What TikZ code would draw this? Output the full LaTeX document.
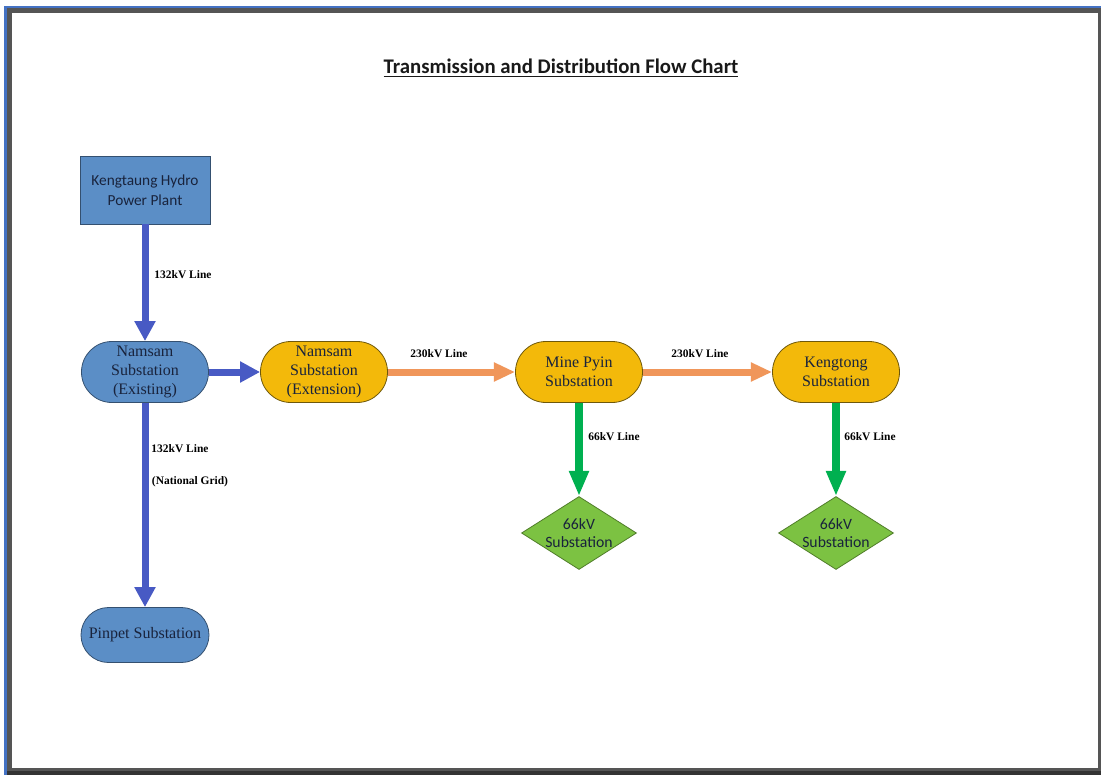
\documentclass[tikz,border=0pt]{standalone}
\usepackage{fontspec}
\setmainfont{Liberation Serif}
\newfontfamily\calib{Carlito}
\usetikzlibrary{arrows.meta,shapes.geometric}
\definecolor{frameblue}{RGB}{68,114,196}
\definecolor{framegray}{RGB}{85,85,85}
\definecolor{nodeblue}{RGB}{91,142,198}
\definecolor{nodeblueline}{RGB}{52,80,112}
\definecolor{nodegold}{RGB}{243,185,10}
\definecolor{nodegoldline}{RGB}{110,88,10}
\definecolor{nodegreen}{RGB}{124,194,66}
\definecolor{nodegreenline}{RGB}{80,125,42}
\definecolor{arrblue}{RGB}{72,90,196}
\definecolor{arrorange}{RGB}{240,150,90}
\definecolor{arrgreen}{RGB}{0,176,80}
\definecolor{txtnavy}{RGB}{25,35,60}
\tikzset{
  plantbox/.style={draw=nodeblueline, line width=0.6pt, fill=nodeblue, minimum width=97.5pt, minimum height=51pt,
    align=center, text=txtnavy, font=\calib\fontsize{11.5}{15}\selectfont, inner sep=1pt},
  stadium/.style={line width=0.6pt, minimum width=95.25pt, minimum height=45.75pt, rounded corners=22.8pt,
    align=center, text=txtnavy, font=\fontsize{12}{14.2}\selectfont, inner sep=1pt},
  bluesub/.style={stadium, draw=nodeblueline, fill=nodeblue},
  goldsub/.style={stadium, draw=nodegoldline, fill=nodegold},
  pinpetbox/.style={draw=nodeblueline, fill=nodeblue, line width=0.6pt, minimum width=96pt, minimum height=41.25pt,
    rounded corners=20.6pt, align=center, text=txtnavy, font=\fontsize{12}{14}\selectfont, inner sep=1pt},
  diam/.style={diamond, draw=nodegreenline, fill=nodegreen, line width=0.6pt, minimum width=86.25pt,
    minimum height=54.75pt, inner sep=0pt},
  diamtext/.style={align=center, text=txtnavy, font=\calib\fontsize{11.8}{14}\selectfont, inner sep=0pt},
  lbl/.style={font=\bfseries\fontsize{8.6}{10}\selectfont, text=black, inner sep=0pt},
  bluearrow/.style={draw=arrblue, line width=5.25pt, -{Triangle[width=15pt,length=15pt]}},
  orangearrow/.style={draw=arrorange, line width=5.25pt, -{Triangle[width=13.5pt,length=16pt]}},
  greenarrow/.style={draw=arrgreen, line width=5.5pt, -{Triangle[width=14pt,length=19pt]}},
}
\begin{document}
\begin{tikzpicture}[x=0.75pt,y=-0.75pt]
\useasboundingbox (0,0) rectangle (1101,775);
% frame
\fill[white] (0,0) rectangle (1101,775);
\fill[framegray] (7,8) rectangle (1101,775);
\fill[white] (12,13) rectangle (1098,768);
\fill[black!80] (7,771) rectangle (1101,775);
\fill[frameblue] (4,6) rectangle (1101,8);
\fill[frameblue] (4,6) rectangle (7,775);
% title
\node[font=\calib\bfseries\fontsize{15.6}{18}\selectfont, text=black!90, inner sep=0pt] (title) at (561,68) {\underline{Transmission and Distribution Flow Chart}};
% nodes
\node[plantbox] (kh) at (145,190) {Kengtaung Hydro\\Power Plant};
\node[bluesub] (ne) at (145,372) {Namsam\\Substation\\(Existing)};
\node[goldsub] (nx) at (324,372) {Namsam\\Substation\\(Extension)};
\node[goldsub] (mp) at (579,372) {Mine Pyin\\Substation};
\node[goldsub] (kt) at (836,372) {Kengtong\\Substation};
\node[diam] (d1) at (579,533) {};
\node[diamtext] (d1t) at (d1) {66kV\\Substation};
\node[diam] (d2) at (836,533) {};
\node[diamtext] (d2t) at (d2) {66kV\\Substation};
\node[pinpetbox] (pp) at (145,635) {Pinpet Substation};
% connectors
\draw[bluearrow] (kh) -- (ne);
\draw[bluearrow] (ne) -- (nx);
\draw[orangearrow] (nx) -- (mp);
\draw[orangearrow] (mp) -- (kt);
\draw[greenarrow] (mp) -- (d1);
\draw[greenarrow] (kt) -- (d2);
\draw[bluearrow] (ne) -- (pp);
% labels
\node[lbl] (l1) at (183,275) {132kV Line};
\node[lbl] (l2) at (180,449) {132kV Line};
\node[lbl] (l3) at (190,482) {(National Grid)};
\node[lbl] (l4) at (439,354) {230kV Line};
\node[lbl] (l5) at (700,354) {230kV Line};
\node[lbl] (l6) at (614,437) {66kV Line};
\node[lbl] (l7) at (870,437) {66kV Line};
\end{tikzpicture}
\end{document}
